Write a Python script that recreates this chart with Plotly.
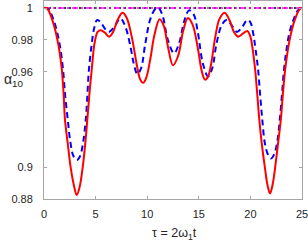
import plotly.graph_objects as go

# red solid curve
t_red = [0.0, 0.3, 0.8, 1.3, 1.7, 1.9, 2.03, 2.3, 2.58, 2.9, 3.17, 3.45, 3.75, 4.0, 4.2, 4.4,
         4.65, 4.9, 5.2, 5.5, 5.9, 6.3, 6.7, 7.1, 7.6, 8.0, 8.5, 9.0, 9.3, 9.6, 9.9, 10.3,
         10.7, 11.2, 11.6, 12.0, 12.5, 13.0, 13.5, 13.95, 14.4, 14.9, 15.3, 15.6, 15.9, 16.2,
         16.6, 17.0, 17.5, 18.0, 18.4, 18.8, 19.3, 19.7, 20.0, 20.2, 20.45, 20.65, 20.86, 21.1,
         21.4, 21.65, 21.9, 22.15, 22.4, 22.7, 22.95, 23.15, 23.4, 23.8, 24.3, 24.8, 25.0]
v_red = [1.0, 0.9998, 0.9925, 0.980, 0.963, 0.946, 0.930, 0.915, 0.900, 0.8885, 0.8825, 0.8875,
         0.900, 0.915, 0.930, 0.946, 0.963, 0.978, 0.985, 0.986, 0.9845, 0.982, 0.985, 0.992,
         0.997, 0.994, 0.982, 0.964, 0.9555, 0.953, 0.956, 0.968, 0.983, 0.993, 0.989, 0.976,
         0.964, 0.970, 0.986, 0.9937, 0.9895, 0.975, 0.960, 0.955, 0.957, 0.965, 0.982, 0.993,
         0.997, 0.992, 0.985, 0.982, 0.984, 0.9856, 0.982, 0.975, 0.962, 0.947, 0.930, 0.915,
         0.900, 0.889, 0.8835, 0.889, 0.900, 0.916, 0.930, 0.946, 0.963, 0.980, 0.9925, 0.9995, 1.0]

# blue dashed curve
t_blue = [0.0, 0.4, 0.9, 1.3, 1.6, 1.85, 2.05, 2.3, 2.55, 2.85, 3.2, 3.5, 3.8, 4.05, 4.2, 4.35,
          4.6, 4.85, 5.15, 5.5, 5.9, 6.3, 6.8, 7.4, 7.9, 8.4, 8.7, 9.05, 9.4, 9.8, 10.3, 10.8,
          11.1, 11.5, 12.0, 12.6, 13.1, 13.6, 14.05, 14.5, 14.9, 15.4, 15.9, 16.3, 16.7, 17.2,
          17.7, 18.2, 18.7, 19.2, 19.7, 20.0, 20.3, 20.5, 20.75, 20.95, 21.15, 21.4, 21.7, 22.0,
          22.3, 22.6, 22.85, 23.05, 23.25, 23.5, 23.8, 24.2, 24.6, 25.0]
v_blue = [1.0, 0.9995, 0.993, 0.984, 0.974, 0.961, 0.945, 0.930, 0.916, 0.907, 0.9045, 0.907,
          0.916, 0.930, 0.945, 0.961, 0.976, 0.987, 0.9925, 0.991, 0.987, 0.985, 0.988, 0.9935,
          0.988, 0.975, 0.965, 0.9585, 0.962, 0.977, 0.993, 0.9995, 1.0, 0.995, 0.980, 0.9715,
          0.978, 0.992, 0.9985, 0.996, 0.985, 0.965, 0.957, 0.962, 0.977, 0.989, 0.9925, 0.989,
          0.985, 0.988, 0.9925, 0.991, 0.983, 0.974, 0.961, 0.945, 0.930, 0.915, 0.908, 0.9055,
          0.908, 0.916, 0.930, 0.945, 0.961, 0.974, 0.985, 0.993, 0.9985, 1.0]

# constant reference lines
t_ref = [0.0, 25.0]
v_ref = [1.0, 1.0]

y_tickvals = [0.88, 0.9, 0.96, 0.98, 1.0]
y_ticktext = ["0.88", "0.9", "0.96", "0.98", "1"]
x_tickvals = [0, 5, 10, 15, 20, 25]
x_ticktext = ["0", "5", "10", "15", "20", "25"]

fig = go.Figure()
fig.add_trace(go.Scatter(x=t_ref, y=v_ref, mode="lines",
                         line=dict(color="black", width=1.5, dash="2px,3px")))
fig.add_trace(go.Scatter(x=t_ref, y=v_ref, mode="lines",
                         line=dict(color="#ff00ff", width=1.5, dash="6px,3px,2px,3px")))
fig.add_trace(go.Scatter(x=t_blue, y=v_blue, mode="lines", line_shape="spline",
                         line=dict(color="#0000ff", width=2, dash="6px,4px")))
fig.add_trace(go.Scatter(x=t_red, y=v_red, mode="lines", line_shape="spline",
                         line=dict(color="#ff0000", width=2)))

axis_common = dict(showline=True, linecolor="#a6a6a6", linewidth=1, mirror="ticks",
                   ticks="inside", ticklen=3, tickcolor="#a6a6a6", showgrid=False,
                   zeroline=False, ticklabeloverflow="allow",
                   tickfont=dict(family="Liberation Sans, Arial", size=11, color="#262626"))

fig.update_layout(
    width=308, height=241,
    margin=dict(l=44, r=6, t=1, b=42),
    paper_bgcolor="white", plot_bgcolor="white",
    showlegend=False,
    xaxis=dict(range=[0, 25], tickvals=x_tickvals, ticktext=x_ticktext,
               ticklabelstandoff=5, **axis_common),
    yaxis=dict(range=[0.88, 1.0044], tickvals=y_tickvals, ticktext=y_ticktext,
               ticklabelstandoff=8, **axis_common),
    annotations=[
        dict(text="α<sub>10</sub>", xref="paper", yref="y", x=-0.162, y=0.955,
             xanchor="left", yanchor="middle", showarrow=False,
             font=dict(family="Liberation Sans, Arial", size=14, color="#262626")),
        dict(text="τ = 2ω<sub>1</sub>t", xref="paper", yref="paper", x=0.505, y=-0.125,
             xanchor="center", yanchor="top", showarrow=False,
             font=dict(family="Liberation Sans, Arial", size=12.5, color="#262626")),
    ],
)

fig.write_html("out.html", config={"displayModeBar": False},
               post_script="document.body.style.margin='0';document.body.style.overflow='hidden';")
